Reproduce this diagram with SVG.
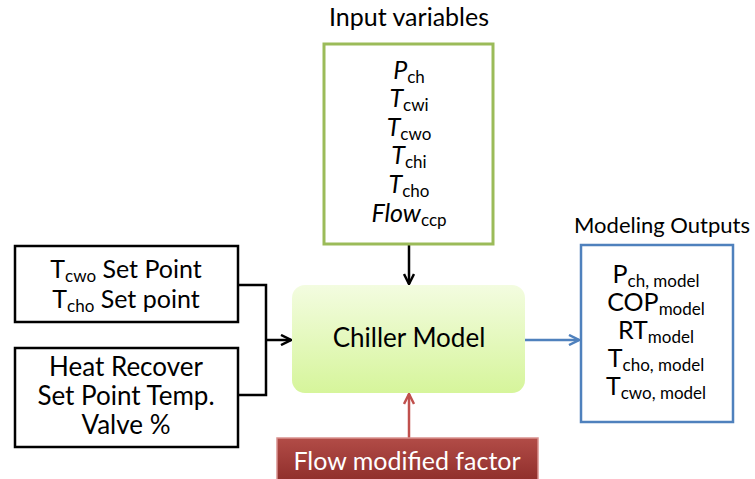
<svg xmlns="http://www.w3.org/2000/svg" width="755" height="479" viewBox="0 0 755 479">
<style>
text{font-family:Lato,"Open Sans","Liberation Sans",sans-serif;fill:#000}
.t{font-size:25px;text-anchor:middle}
.sub{font-size:17px}
.it{font-style:italic}
.box{fill:#fff;stroke:#000;stroke-width:2.5}
</style>
<defs>
<linearGradient id="gG" x1="0" y1="0" x2="0" y2="1"><stop offset="0" stop-color="#F3FCE0"/><stop offset="1" stop-color="#D6F59B"/></linearGradient>
<linearGradient id="gR" x1="0" y1="0" x2="0" y2="1"><stop offset="0" stop-color="#B24C47"/><stop offset="1" stop-color="#8E2D2A"/></linearGradient>
<marker id="aK" viewBox="0 0 10 10" refX="9" refY="5" markerWidth="5" markerHeight="5" orient="auto"><path d="M1,1 L9,5 L1,9" fill="none" stroke="#000" stroke-width="2"/></marker>
<marker id="aB" viewBox="0 0 10 10" refX="9" refY="5" markerWidth="5" markerHeight="5" orient="auto"><path d="M1,1 L9,5 L1,9" fill="none" stroke="#4F81BD" stroke-width="2"/></marker>
<marker id="aR" viewBox="0 0 10 10" refX="9" refY="5" markerWidth="5" markerHeight="5" orient="auto"><path d="M1,1 L9,5 L1,9" fill="none" stroke="#C0504D" stroke-width="2"/></marker>
</defs>

<g id="connectors" fill="none">
<path d="M409,245 V284" stroke="#000" stroke-width="2.5" marker-end="url(#aK)"/>
<path d="M238,285 H266 V395 H238" stroke="#000" stroke-width="2.5"/>
<path d="M266,340 H291" stroke="#000" stroke-width="2.5" marker-end="url(#aK)"/>
<path d="M525,340 H579" stroke="#4F81BD" stroke-width="2.5" marker-end="url(#aB)"/>
<path d="M409,438 V394" stroke="#C0504D" stroke-width="2.5" marker-end="url(#aR)"/>
</g>

<g id="inputs">
<text x="409" y="26" style="font-size:25px;text-anchor:middle">Input variables</text>
<rect x="324" y="44" width="169" height="200" fill="#fff" stroke="#9BBB59" stroke-width="3"/>
<text class="t" x="409" y="79"><tspan class="it">P</tspan><tspan class="sub" dy="4">ch</tspan></text>
<text class="t" x="409" y="107"><tspan class="it">T</tspan><tspan class="sub" dy="4">cwi</tspan></text>
<text class="t" x="409" y="136"><tspan class="it">T</tspan><tspan class="sub" dy="4">cwo</tspan></text>
<text class="t" x="409" y="164"><tspan class="it">T</tspan><tspan class="sub" dy="4">chi</tspan></text>
<text class="t" x="409" y="193"><tspan class="it">T</tspan><tspan class="sub" dy="4">cho</tspan></text>
<text class="t" x="409" y="222"><tspan class="it">Flow</tspan><tspan class="sub" dy="4">ccp</tspan></text>
</g>

<g id="setpoints">
<rect class="box" x="15" y="246" width="223" height="76"/>
<text class="t" x="126" y="278">T<tspan class="sub" dy="4">cwo</tspan><tspan dy="-4"> Set Point</tspan></text>
<text class="t" x="126" y="308">T<tspan class="sub" dy="4">cho</tspan><tspan dy="-4"> Set point</tspan></text>
</g>

<g id="heatrecover">
<rect class="box" x="15" y="348" width="223" height="99"/>
<text x="126" y="376" style="font-size:26px;text-anchor:middle">Heat Recover</text>
<text x="126" y="405" style="font-size:26px;text-anchor:middle">Set Point Temp.</text>
<text x="126" y="434" style="font-size:26px;text-anchor:middle">Valve %</text>
</g>

<g id="chiller">
<rect x="292" y="285" width="233" height="108" rx="13" fill="url(#gG)"/>
<text x="409" y="347" style="font-size:26px;text-anchor:middle">Chiller Model</text>
</g>

<g id="outputs">
<text x="662" y="233" style="font-size:22px;text-anchor:middle">Modeling Outputs</text>
<rect x="581" y="245" width="152" height="177" fill="#fff" stroke="#4F81BD" stroke-width="2.5"/>
<text class="t" x="656" y="283">P<tspan class="sub" dy="4">ch, model</tspan></text>
<text class="t" x="656" y="311">COP<tspan class="sub" dy="4">model</tspan></text>
<text class="t" x="656" y="339">RT<tspan class="sub" dy="4">model</tspan></text>
<text class="t" x="656" y="367">T<tspan class="sub" dy="4">cho, model</tspan></text>
<text class="t" x="656" y="395">T<tspan class="sub" dy="4">cwo, model</tspan></text>
</g>

<g id="flowfactor">
<rect x="277" y="438" width="261" height="45" fill="url(#gR)" stroke="#D9918E" stroke-width="1.5"/>
<text x="407" y="470" style="font-size:25px;text-anchor:middle;fill:#fff">Flow modified factor</text>
</g>
</svg>
